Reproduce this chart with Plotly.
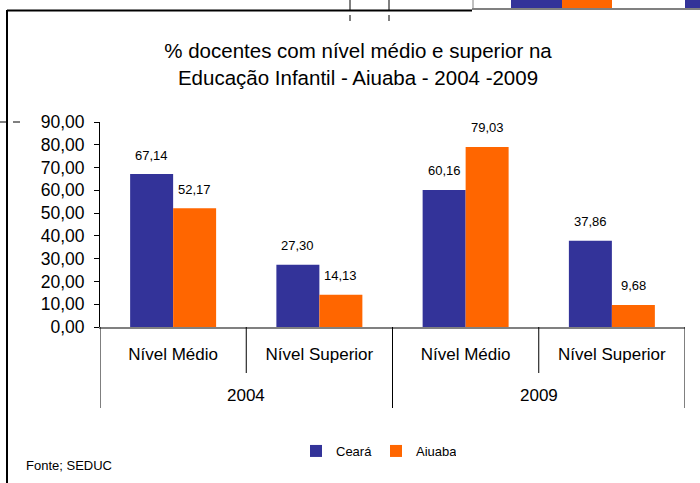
import plotly.graph_objects as go

categories = ["Nível Médio", "Nível Superior", "Nível Médio", "Nível Superior"]
years = ["2004", "2009"]
ceara = [67.14, 27.30, 60.16, 37.86]
aiuaba = [52.17, 14.13, 79.03, 9.68]
series_names = ["Ceará", "Aiuaba"]
y_ticks = [0, 10, 20, 30, 40, 50, 60, 70, 80, 90]

BLUE = "#333399"
ORANGE = "#FF6600"
FONT = "Liberation Sans, Arial, sans-serif"

# plot area in pixels
L, R, T, B = 100, 685, 122, 327
W, H = 700, 483


def px(x):
    return (x - L) / (R - L)


def py(y):
    return (B - y) / (B - T)


xpos = list(range(len(categories)))

fig = go.Figure()
fig.add_trace(go.Bar(x=xpos, y=ceara, name=series_names[0], marker=dict(color=BLUE, line=dict(width=0))))
fig.add_trace(go.Bar(x=xpos, y=aiuaba, name=series_names[1], marker=dict(color=ORANGE, line=dict(width=0))))

bargap = 0.412
half = (1 - bargap) / 4.0


def fmt(v):
    return f"{v:.2f}".replace(".", ",")


annotations = []
for i in xpos:
    for off, vals in ((-half, ceara), (half, aiuaba)):
        annotations.append(dict(x=i + off, y=vals[i], xref="x", yref="y", text=fmt(vals[i]),
                                showarrow=False, yanchor="middle", yshift=19,
                                font=dict(size=13, color="black", family=FONT)))

for k, yr in enumerate(years):
    annotations.append(dict(x=2 * k + 0.5, y=py(395), xref="x", yref="paper", text=yr,
                            showarrow=False, yanchor="middle",
                            font=dict(size=17, color="black", family=FONT)))

annotations.append(dict(x=px(24), y=py(465), xref="paper", yref="paper", text="Fonte; SEDUC",
                        showarrow=False, xanchor="left", yanchor="middle",
                        font=dict(size=13, color="black", family=FONT)))

shapes = []
for xv in (0.5, 2.5):
    shapes.append(dict(type="line", xref="x", yref="paper", x0=xv, x1=xv, y0=0, y1=py(373),
                       line=dict(color="black", width=1)))
for xv in (-0.5, 1.5, 3.5):
    shapes.append(dict(type="line", xref="x", yref="paper", x0=xv, x1=xv, y0=0, y1=py(408),
                       line=dict(color="black", width=1)))


def pline(x0, y0, x1, y1, color="black", width=1.5):
    shapes.append(dict(type="line", xref="paper", yref="paper", x0=px(x0), x1=px(x1),
                       y0=py(y0), y1=py(y1), line=dict(color=color, width=width), layer="above"))


def prect(x0, y0, x1, y1, color):
    shapes.append(dict(type="rect", xref="paper", yref="paper", x0=px(x0), x1=px(x1),
                       y0=py(y0), y1=py(y1), line=dict(width=0), fillcolor=color, layer="above"))


# surrounding frame and fragments of the neighbouring page content
prect(511, -5, 562, 8, BLUE)
prect(562, -5, 612, 8, ORANGE)
prect(685, -5, 705, 8, BLUE)
pline(472, 9, 705, 9, color="#808080", width=2)
pline(473, -5, 473, 9, color="#808080", width=1)
pline(7, 10.5, 472, 10.5, width=2)
pline(7, 10, 7, H + 5, width=2)
pline(350, -5, 350, 10, width=1)
pline(389, -5, 389, 10, width=1)
pline(350, 15, 350, 21, width=1)
pline(389, 15, 389, 21, width=1)
pline(0, 122, 7, 122, width=1)
pline(13, 122, 20, 122, width=1)

fig.update_layout(
    width=W, height=H,
    margin=dict(l=L, r=W - R, t=T, b=H - B),
    paper_bgcolor="white", plot_bgcolor="white",
    separators=",.",
    font=dict(family=FONT, color="black"),
    barmode="group", bargap=bargap, bargroupgap=0,
    title=dict(text="% docentes com nível médio e superior na<br>Educação Infantil - Aiuaba - 2004 -2009",
               x=358 / W, xanchor="center", y=1 - 58 / H, yanchor="middle", yref="container",
               font=dict(size=20.5, family=FONT, color="black")),
    xaxis=dict(range=[-0.5, 3.5], tickmode="array", tickvals=xpos, ticktext=categories,
               showline=True, linecolor="#808080", linewidth=2, ticks="", showgrid=False,
               zeroline=False, tickfont=dict(size=17, family=FONT, color="black"),
               ticklabelstandoff=11, fixedrange=True),
    yaxis=dict(range=[0, 90], tickmode="array", tickvals=y_ticks, tickformat=".2f",
               showline=True, linecolor="black", linewidth=1, ticks="outside", ticklen=5,
               tickcolor="black", showgrid=False, zeroline=False,
               tickfont=dict(size=17.5, family=FONT, color="black"), ticklabelstandoff=6),
    legend=dict(orientation="h", x=px(296), xanchor="left", y=py(451), yanchor="middle",
                font=dict(size=13, family=FONT, color="black"), entrywidth=35,
                bgcolor="rgba(0,0,0,0)"),
    annotations=annotations,
    shapes=shapes,
)

fig.write_html("out.html", config={"displayModeBar": False},
               post_script="document.body.style.margin='0';document.body.style.padding='0';")
